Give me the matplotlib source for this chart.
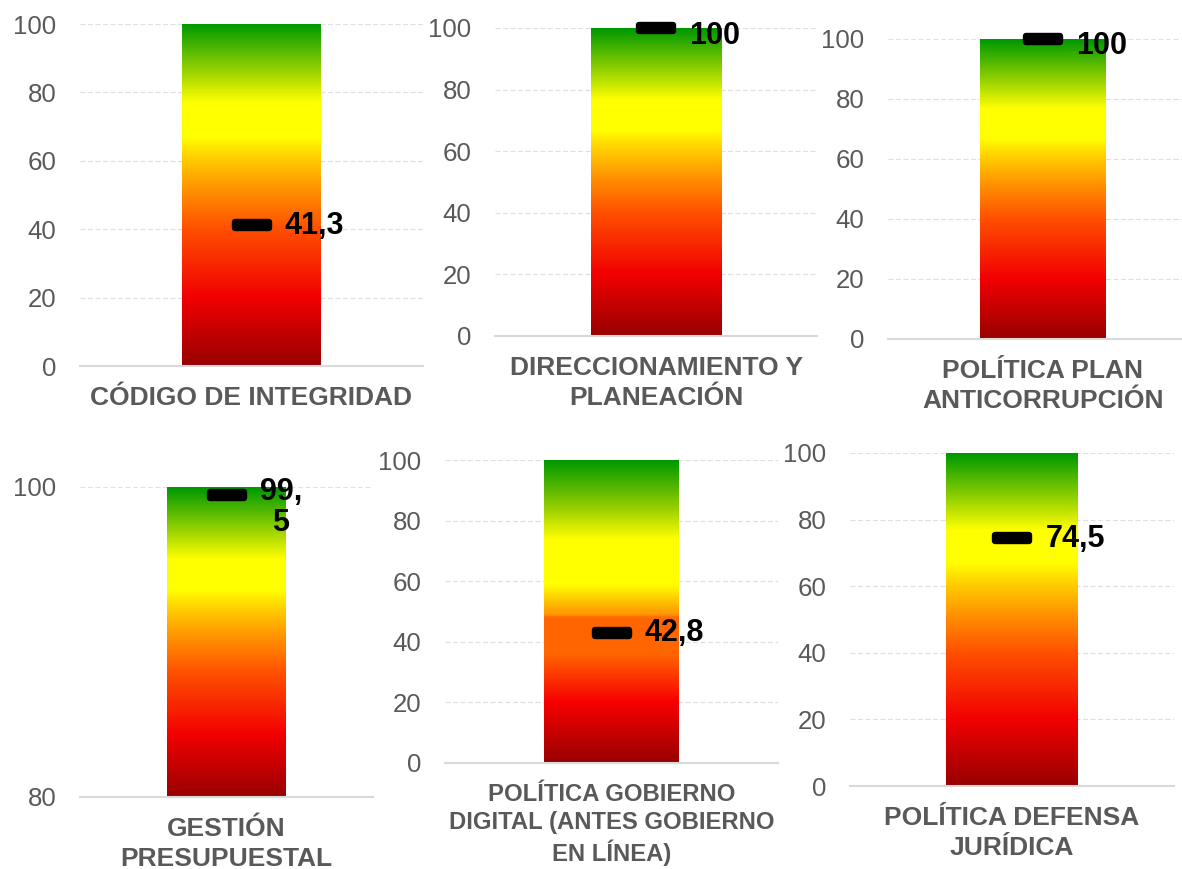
import matplotlib
matplotlib.use("Agg")
import matplotlib.pyplot as plt
import numpy as np
from matplotlib.colors import LinearSegmentedColormap
from matplotlib.markers import MarkerStyle
from matplotlib.path import Path

plt.rcParams['font.family'] = ['Liberation Sans', 'DejaVu Sans']

# data
categories = ["CÓDIGO DE INTEGRIDAD",
              "DIRECCIONAMIENTO Y\nPLANEACIÓN",
              "POLÍTICA PLAN\nANTICORRUPCIÓN",
              "GESTIÓN\nPRESUPUESTAL",
              "POLÍTICA GOBIERNO\nDIGITAL (ANTES GOBIERNO\nEN LÍNEA)",
              "POLÍTICA DEFENSA\nJURÍDICA"]
values = [41.3, 100, 100, 99.5, 42.8, 74.5]
value_labels = ["41,3", "100", "100", "99,\n5", "42,8", "74,5"]
bar_top = [100, 100, 100, 100, 100, 100]
y_min = [0, 0, 0, 80, 0, 0]
y_step = 20

# layout in pixels: left, right, y of top, y of bottom
W, H = 1182, 869
boxes = [(80, 423, 24, 366), (495, 817, 28, 336), (888, 1198, 39, 339),
         (80, 373, 487, 797), (445, 778, 460, 763), (850, 1174, 453, 786)]
label_dy = [-1, -6, -5, -9, 0, -1]   # points
title_size = [19, 19, 19, 19, 17.2, 19]
title_spacing = [1.32, 1.32, 1.32, 1.32, 1.25, 1.32]

GREY = "#595959"

normal = LinearSegmentedColormap.from_list("g1", [
    (0.0, "#990000"), (0.2, "#f20000"), (0.40, "#ff5000"), (0.52, "#ff9500"),
    (0.61, "#ffd000"), (0.67, "#ffff00"), (0.77, "#ffff00"), (0.86, "#9bd400"),
    (1.0, "#009900")])
stepped = LinearSegmentedColormap.from_list("g2", [
    (0.0, "#990000"), (0.2, "#f80000"), (0.36, "#ff6600"), (0.48, "#ff6600"),
    (0.49, "#ff9400"), (0.55, "#ffd400"), (0.59, "#ffff00"), (0.74, "#ffff00"),
    (0.84, "#9bd000"), (1.0, "#009900")])
cmaps = [normal, normal, normal, normal, stepped, normal]

# flat dash used as the value marker
dash = Path([(-16.5, -2.5), (16.5, -2.5), (16.5, 2.5), (-16.5, 2.5), (0, 0)],
            [Path.MOVETO, Path.LINETO, Path.LINETO, Path.LINETO, Path.CLOSEPOLY])
dash_marker = MarkerStyle(dash, joinstyle="round")

fig = plt.figure(figsize=(W / 100, H / 100), dpi=100)
bw = 0.405

for i in range(6):
    l, r, t, b = boxes[i]
    ax = fig.add_axes([l / W, 1 - b / H, (r - l) / W, (b - t) / H])
    ax.set_xlim(-0.5, 0.5)
    ax.set_ylim(y_min[i], bar_top[i])

    bars = ax.bar(0, bar_top[i] - y_min[i], bw, bottom=y_min[i],
                  color="none", zorder=2)
    grad = np.linspace(0, 1, 400).reshape(-1, 1)
    im = ax.imshow(grad, cmap=cmaps[i], origin="lower", aspect="auto",
                   extent=(-bw / 2, bw / 2, y_min[i], bar_top[i]), zorder=2)
    im.set_clip_path(bars[0])

    ax.plot(0, values[i], marker=dash_marker, ms=23.8, mew=4.6,
            color="black", zorder=4, clip_on=False)

    ax.annotate(value_labels[i], (0, values[i]), xytext=(24, label_dy[i]),
                textcoords="offset points", ha="left", va="center",
                multialignment="center", fontsize=22, fontweight="bold",
                color="black", zorder=5, linespacing=1.05,
                annotation_clip=False)

    ax.set_yticks(np.arange(y_min[i], bar_top[i] + 1, y_step))
    ax.yaxis.grid(True, color="#e0e0e0", linestyle=(0, (4, 2)), lw=0.9)
    ax.set_axisbelow(True)
    ax.set_xticks([])
    ax.tick_params(axis="y", length=0, pad=17, labelsize=18.6,
                   labelcolor=GREY)
    for s in ["top", "left", "right"]:
        ax.spines[s].set_visible(False)
    ax.spines["bottom"].set_color("#d9d9d9")
    ax.spines["bottom"].set_linewidth(1.5)

    ax.annotate(categories[i], (0.5, 0), xycoords="axes fraction",
                xytext=(0, -14.5), textcoords="offset points",
                ha="center", va="top", fontsize=title_size[i],
                fontweight="bold", color=GREY, linespacing=title_spacing[i],
                annotation_clip=False)

fig.savefig("out.png", dpi=100)
